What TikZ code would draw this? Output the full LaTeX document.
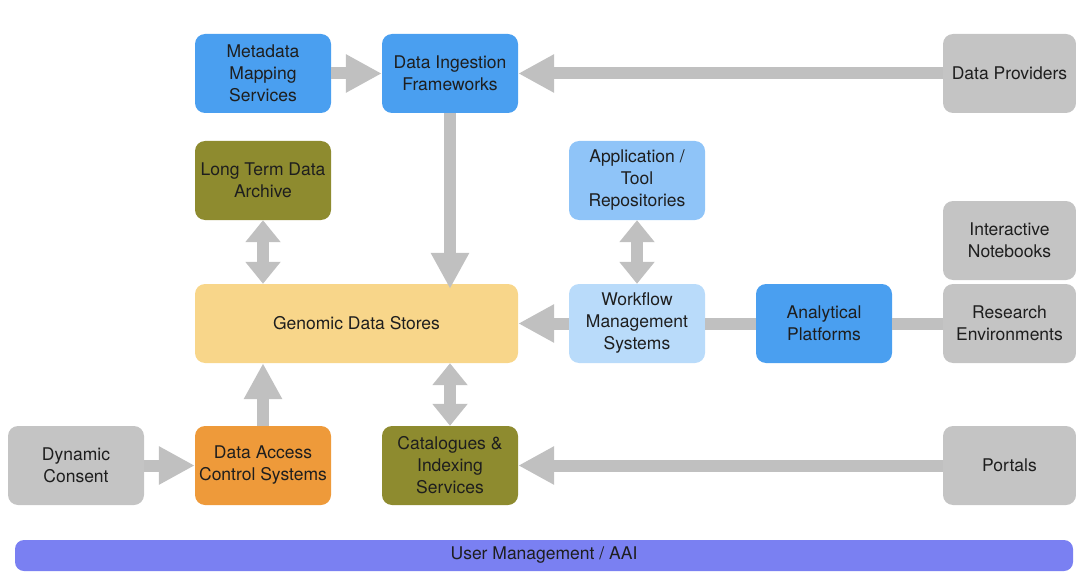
\documentclass[tikz,border=0pt]{standalone}
\usepackage{fontspec}
\setmainfont{TeX Gyre Heros}
\usetikzlibrary{arrows.meta}
\definecolor{blueA}{HTML}{4A9FF0}
\definecolor{blueB}{HTML}{8FC4F8}
\definecolor{blueC}{HTML}{B9DBFA}
\definecolor{olive}{HTML}{8E8B2F}
\definecolor{orangeA}{HTML}{EE9A3A}
\definecolor{yellowA}{HTML}{F8D68A}
\definecolor{greyA}{HTML}{C4C4C4}
\definecolor{arrowgrey}{HTML}{C0C0C0}
\definecolor{purpleA}{HTML}{7A80F2}
\definecolor{txt}{HTML}{1E1E1E}
\begin{document}
\begin{tikzpicture}[x=1pt,y=-1pt,
  box/.style={rounded corners=10pt, inner sep=0pt, minimum width=136pt,
    minimum height=79pt, align=center, text=txt,
    font=\fontsize{17.5}{22}\selectfont},
  flow/.style={draw=arrowgrey, line width=12pt,
    -{Triangle[width=36pt,length=36pt]}},
  both/.style={draw=arrowgrey, line width=12pt,
    {Triangle[width=34pt,length=22pt]}-{Triangle[width=34pt,length=22pt]}},
  link/.style={draw=arrowgrey, line width=12pt}]
\useasboundingbox (0,0) rectangle (1076,583);

% components
\node[box, fill=blueA] (meta) at (263,73.5) {Metadata\\Mapping\\Services};
\node[box, fill=blueA] (ingest) at (450,73.5) {Data Ingestion\\Frameworks};
\node[box, fill=greyA, minimum width=133pt] (prov) at (1009.5,73.5) {Data Providers};
\node[box, fill=olive] (archive) at (263,180.5) {Long Term Data\\Archive};
\node[box, fill=blueB] (tools) at (637,180.5) {Application /\\Tool\\Repositories};
\node[box, fill=greyA, minimum width=133pt] (notebooks) at (1009.5,240.5) {Interactive\\Notebooks};
\node[box, fill=yellowA, minimum width=323pt] (stores) at (356.5,323.5) {Genomic Data Stores};
\node[box, fill=blueC] (workflow) at (637,323.5) {Workflow\\Management\\Systems};
\node[box, fill=blueA] (platforms) at (824,323.5) {Analytical\\Platforms};
\node[box, fill=greyA, minimum width=133pt] (research) at (1009.5,323.5) {Research\\Environments};
\node[box, fill=greyA] (consent) at (76,465.5) {Dynamic\\Consent};
\node[box, fill=orangeA] (access) at (263,465.5) {Data Access\\Control Systems};
\node[box, fill=olive] (catalog) at (450,465.5) {Catalogues \&\\Indexing\\Services};
\node[box, fill=greyA, minimum width=133pt] (portals) at (1009.5,465.5) {Portals};
\node[box, fill=purpleA, minimum width=1058pt, minimum height=31pt,
  rounded corners=9pt] (aai) at (544,555.5) {User Management / AAI};

% connectors
\draw[flow] (meta.east) -- (ingest.west);
\draw[flow] (prov.west) -- (ingest.east);
\draw[flow] (ingest.south) -- ([yshift=-5pt]ingest.south |- stores.north);
\draw[both] (archive.south) -- (archive.south |- stores.north);
\draw[both] (tools.south) -- (workflow.north);
\draw[flow] (workflow.west) -- (workflow.west -| stores.east);
\draw[link] (platforms.west) -- (workflow.east);
\draw[link] (platforms.east) -- (research.west);
\draw[flow] (access.north) -- (access.north |- stores.south);
\draw[both] (catalog.north) -- (catalog.north |- stores.south);
\draw[flow] (consent.east) -- (access.west);
\draw[flow] (portals.west) -- (catalog.east);
\end{tikzpicture}
\end{document}
